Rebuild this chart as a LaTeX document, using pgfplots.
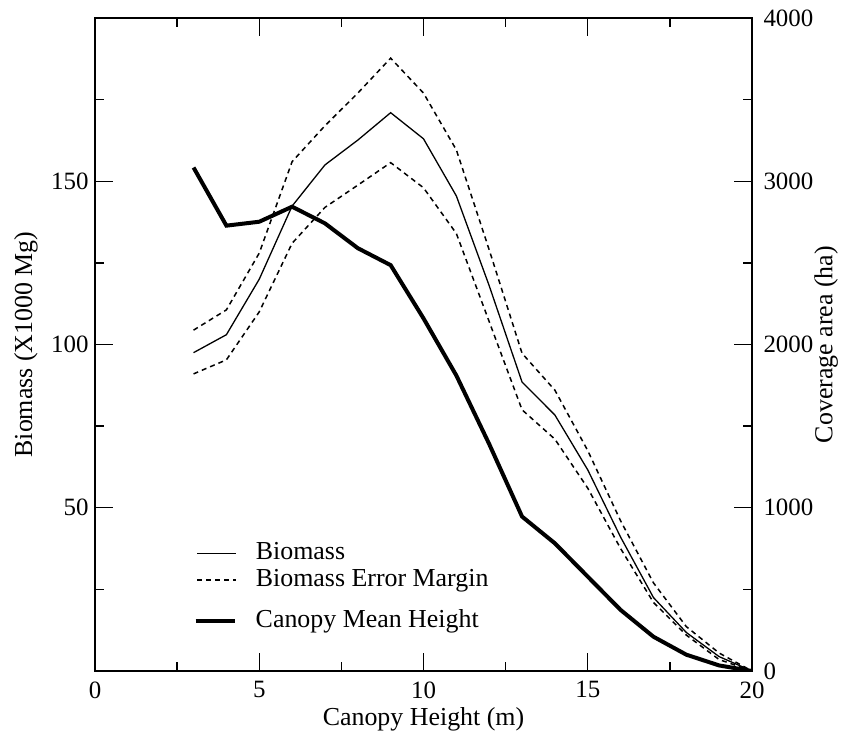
\documentclass[border=0pt]{standalone}
\usepackage{pgfplots}
\usepackage{pgfplotstable}
\pgfplotsset{compat=1.18}
\usepackage{fontspec}
\setmainfont{Liberation Serif}

\pgfplotstableread{
x bio up lo
3 97.5 104.4 91
4 103 110.6 95.3
5 120 128 110
6 142.4 156 131
7 155 167 142
8 162.6 177 148.8
9 171 187.7 155.7
10 163 177 148
11 145.5 159.6 134
12 118 129 107
13 88.5 97.3 80
14 78.4 86 71
15 61.6 67.5 56
16 41 46 37.5
17 22.5 27 21
18 11.8 13.6 11
19 4.4 5.5 3.5
20 0 0 0
}\biotab

\pgfplotstableread{
x area
3 3084
4 2728
5 2752
6 2844
7 2742
8 2590
9 2486
10 2160
11 1810
12 1390
13 946
14 782
15 578
16 374
17 210
18 100
19 34
20 0
}\areatab

\begin{document}
\begin{tikzpicture}
\pgfplotsset{
  common/.style={
    scale only axis, width=657bp, height=653bp,
    xmin=0, xmax=20, at={(0,0)}, anchor=south west,
    major tick length=18bp, minor tick length=9bp,
    every tick/.style={line width=1.4bp, black},
    tick label style={font=\fontsize{25}{30}\selectfont},
    label style={font=\fontsize{26}{31}\selectfont},
    /pgf/number format/assume math mode=true,
    /pgf/number format/1000 sep={},
    axis line style={line width=1.8bp},
    legend image code/.code={\draw[##1] (0bp,0bp) -- (39bp,0bp);},
    legend style={draw=none, fill=none, font=\fontsize{26}{31}\selectfont,
      cells={anchor=west}, inner sep=0pt, row sep=3bp, column sep=19bp,
      nodes={inner sep=0pt, text height=18bp, text depth=6bp}},
  }
}
\begin{axis}[common,
  ymin=0, ymax=200,
  xtick={0,5,10,15,20}, minor xtick={2.5,7.5,12.5,17.5},
  ytick={50,100,150}, minor ytick={25,75,125,175},
  xtick pos=both, ytick pos=left, tick align=inside,
  xlabel={Canopy Height (m)}, ylabel={Biomass (X1000 Mg)},
  xlabel style={at={(axis description cs:0.5,0)}, anchor=center, yshift=-48bp},
  ylabel style={at={(axis description cs:-0.105,0.5)}, anchor=center, rotate=0},
  xticklabel style={yshift=-7bp},
  yticklabel style={xshift=-3bp},
  legend style={at={(axis description cs:0.154,0.199)}, anchor=north west},
]
\addplot[black, line width=1.3bp] table[x=x, y=bio] {\biotab};
\addlegendentry{Biomass}
\addplot[black, line width=1.5bp, dash pattern=on 5bp off 4bp] table[x=x, y=up] {\biotab};
\addlegendentry{Biomass Error Margin}
\addplot[black, line width=1.5bp, dash pattern=on 5bp off 4bp, forget plot] table[x=x, y=lo] {\biotab};
\end{axis}
\begin{axis}[common,
  ymin=0, ymax=4000,
  axis x line=none, axis y line*=right,
  ytick={0,1000,2000,3000,4000}, minor ytick={500,1500,2500,3500},
  tick align=inside,
  yticklabel style={xshift=8bp},
  ylabel={Coverage area (ha)},
  ylabel style={at={(axis description cs:1.113,0.5)}, anchor=center, rotate=0},
  legend style={at={(axis description cs:0.150,0.095)}, anchor=north west},
]
\addplot[black, line width=4bp] table[x=x, y=area] {\areatab};
\addlegendentry{Canopy Mean Height}
\end{axis}
\pgfresetboundingbox
\path[use as bounding box] (-95bp,-62bp) rectangle (752bp,671bp);
\end{tikzpicture}
\end{document}
